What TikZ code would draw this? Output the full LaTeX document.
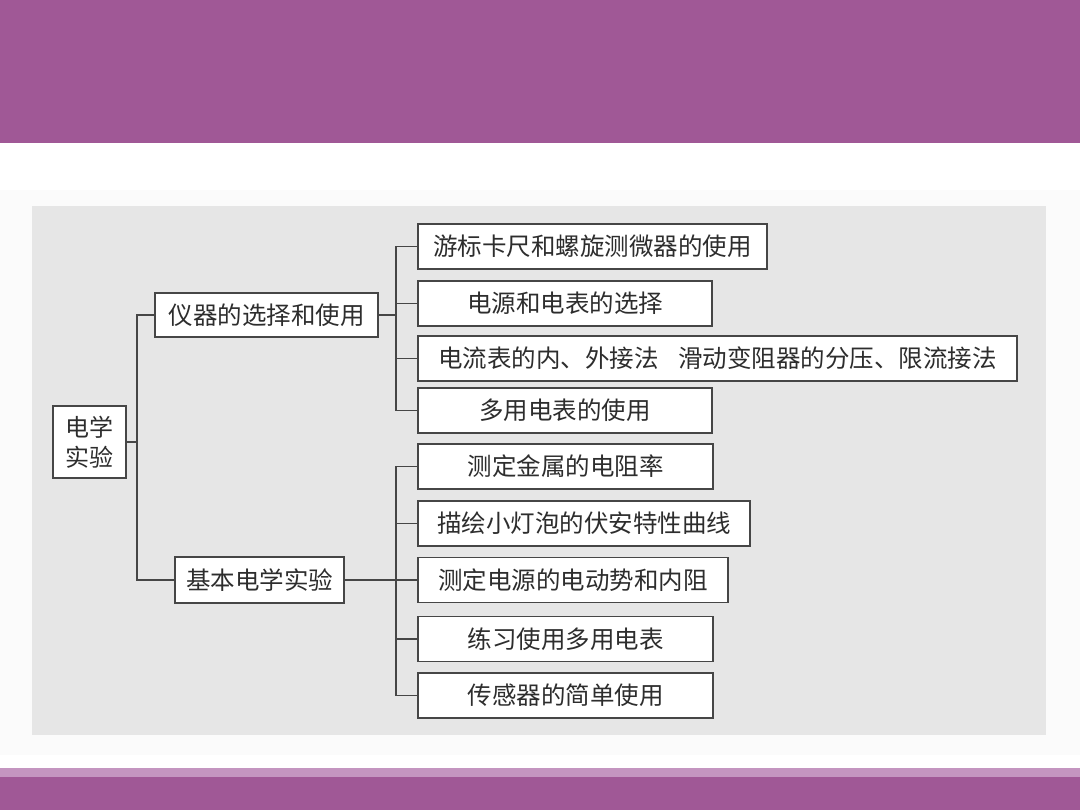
\documentclass[tikz,border=0pt]{standalone}
\usepackage{fontspec}
\newfontfamily\cjk{Noto Sans CJK SC}
\definecolor{band}{RGB}{160,88,150}
\definecolor{bandlight}{RGB}{196,149,192}
\definecolor{panel}{RGB}{230,230,230}
\definecolor{faint}{RGB}{251,251,251}
\definecolor{edge}{RGB}{70,70,70}
\definecolor{ink}{RGB}{45,45,45}
\begin{document}
\begin{tikzpicture}[x=1pt,y=-1pt,
  box/.style={draw=edge,line width=1.4pt,fill=white,inner sep=0pt,
    minimum height=45pt,text=ink,align=center,
    font=\cjk\fontsize{24.5}{28}\selectfont},
  link/.style={draw=edge,line width=1.4pt}]
\useasboundingbox (0,0) rectangle (1080,810);
\fill[white] (0,0) rectangle (1080,810);
\fill[band] (0,0) rectangle (1080,143);
\fill[faint] (0,190) rectangle (1080,755);
\fill[panel] (32,206) rectangle (1046,735);
\fill[bandlight] (0,768) rectangle (1080,777);
\fill[band] (0,777) rectangle (1080,810);

\node[box,minimum width=73pt,minimum height=72pt,font=\cjk\fontsize{24}{30}\selectfont] (root) at (89.5,442) {电学\\实验};
\node[box,minimum width=223pt,minimum height=44pt] (A) at (266.5,315) {仪器的选择和使用};
\node[box,minimum width=349pt] (A1) at (592.5,246.5) {游标卡尺和螺旋测微器的使用};
\node[box,minimum width=294pt] (A2) at (565,303.5) {电源和电表的选择};
\node[box,minimum width=599pt] (A3) at (717.5,358.5) {电流表的内、外接法\hspace{0.8em}滑动变阻器的分压、限流接法};
\node[box,minimum width=294pt] (A4) at (565,410.5) {多用电表的使用};

\node[box,minimum width=169pt,minimum height=46pt] (B) at (259.5,580) {基本电学实验};
\node[box,minimum width=295pt] (B1) at (565.5,466.5) {测定金属的电阻率};
\node[box,minimum width=332pt] (B2) at (584,523.5) {描绘小灯泡的伏安特性曲线};
\node[box,minimum width=310pt] (B3) at (573,580) {测定电源的电动势和内阻};
\node[box,minimum width=295pt] (B4) at (565.5,639) {练习使用多用电表};
\node[box,minimum width=295pt] (B5) at (565.5,695.5) {传感器的简单使用};

\coordinate (j0) at (137,442);
\coordinate (j1) at (396,315);
\coordinate (j2) at (396,580);

\draw[link] (root.east) -- (j0);
\draw[link] (A.west) -| (j0) |- (B.west);
\draw[link] (A.east) -- (j1);
\draw[link] (A1.west) -| (j1) |- (A4.west);
\draw[link] (A2.west) -| (j1);
\draw[link] (A3.west) -| (j1);
\draw[link] (B.east) -- (B3.west);
\draw[link] (B1.west) -| (j2) |- (B5.west);
\draw[link] (B2.west) -| (j2);
\draw[link] (B4.west) -| (j2);
\end{tikzpicture}
\end{document}
